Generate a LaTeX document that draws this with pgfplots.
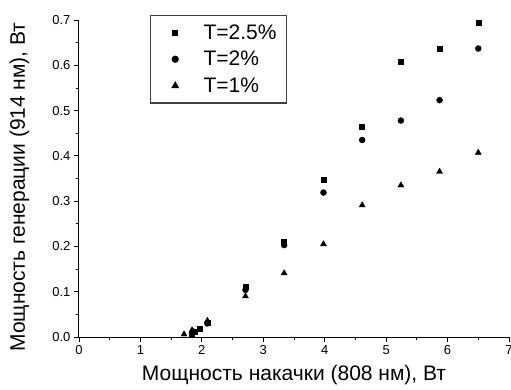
\documentclass[border=0pt]{standalone}
\usepackage{fontspec}
\setmainfont{Liberation Sans}
\usepackage{pgfplots}
\pgfplotsset{compat=1.18}
\pgfplotsset{myleg/.style={legend image code/.code={\path[draw=none,fill=none] (0bp,-3bp) rectangle (43bp,3bp);\draw[mark repeat=2,mark phase=2,##1] plot coordinates {(0bp,0bp) (16.7bp,0bp) (43bp,0bp)};}}}
\begin{document}
\begin{tikzpicture}
\path[use as bounding box] (-79bp,-53bp) rectangle (432bp,337bp);
\begin{axis}[
 at={(0,0)}, anchor=south west,
 scale only axis, width=430bp, height=317bp,
 xmin=0, xmax=7, ymin=0, ymax=0.7,
 axis lines*=left,
 axis line style={line width=1bp, black},
 tick align=outside,
 major tick length=5bp, minor tick length=3bp,
 every tick/.style={line width=0.8bp, black},
 xtick={0,1,2,3,4,5,6,7}, minor x tick num=1,
 ytick={0,0.1,0.2,0.3,0.4,0.5,0.6,0.7}, minor y tick num=1,
 /pgf/number format/assume math mode=true,
 ticklabel style={font=\fontsize{13bp}{15bp}\selectfont},
 yticklabel style={/pgf/number format/.cd, fixed, fixed zerofill, precision=1},
 xlabel={Мощность накачки (808 нм), Вт},
 ylabel={Мощность генерации (914 нм), Вт},
 label style={font=\fontsize{21bp}{25bp}\selectfont},
 xlabel style={at={([yshift=-43bp]axis description cs:0.5,0)}, anchor=base},
 ylabel style={at={([xshift=-54bp]axis description cs:0,0.473)}, anchor=base},
 legend style={at={(axis description cs:0.165,1.016)}, anchor=north west,
   font=\fontsize{21bp}{25bp}\selectfont, draw=black!75, line width=1.2bp,
   inner xsep=8bp, inner ysep=7bp, row sep=6.5bp, nodes={inner sep=2bp}},
 legend cell align=left,
]
\addplot[only marks, mark=square*, mark size=2.5bp, black, myleg] coordinates {
 (1.84,0.005) (1.89,0.012) (1.96,0.019) (2.09,0.032) (2.71,0.110) (3.34,0.211)
 (3.98,0.347) (4.61,0.464) (5.24,0.609) (5.87,0.637) (6.50,0.695)};
\addlegendentry{T=2.5\%}
\addplot[only marks, mark=*, mark size=3bp, black, myleg] coordinates {
 (1.84,0.008) (1.86,0.012) (2.09,0.030) (2.71,0.104) (3.34,0.203)
 (3.98,0.319) (4.61,0.435) (5.24,0.478) (5.87,0.523) (6.50,0.637)};
\addlegendentry{T=2\%}
\addplot[only marks, mark=triangle*, mark size=3.5bp, black, myleg] coordinates {
 (1.71,0.006) (1.84,0.015) (2.09,0.036) (2.71,0.090) (3.34,0.141)
 (3.98,0.205) (4.61,0.291) (5.24,0.335) (5.87,0.365) (6.50,0.407)};
\addlegendentry{T=1\%}
\end{axis}
\end{tikzpicture}
\end{document}
